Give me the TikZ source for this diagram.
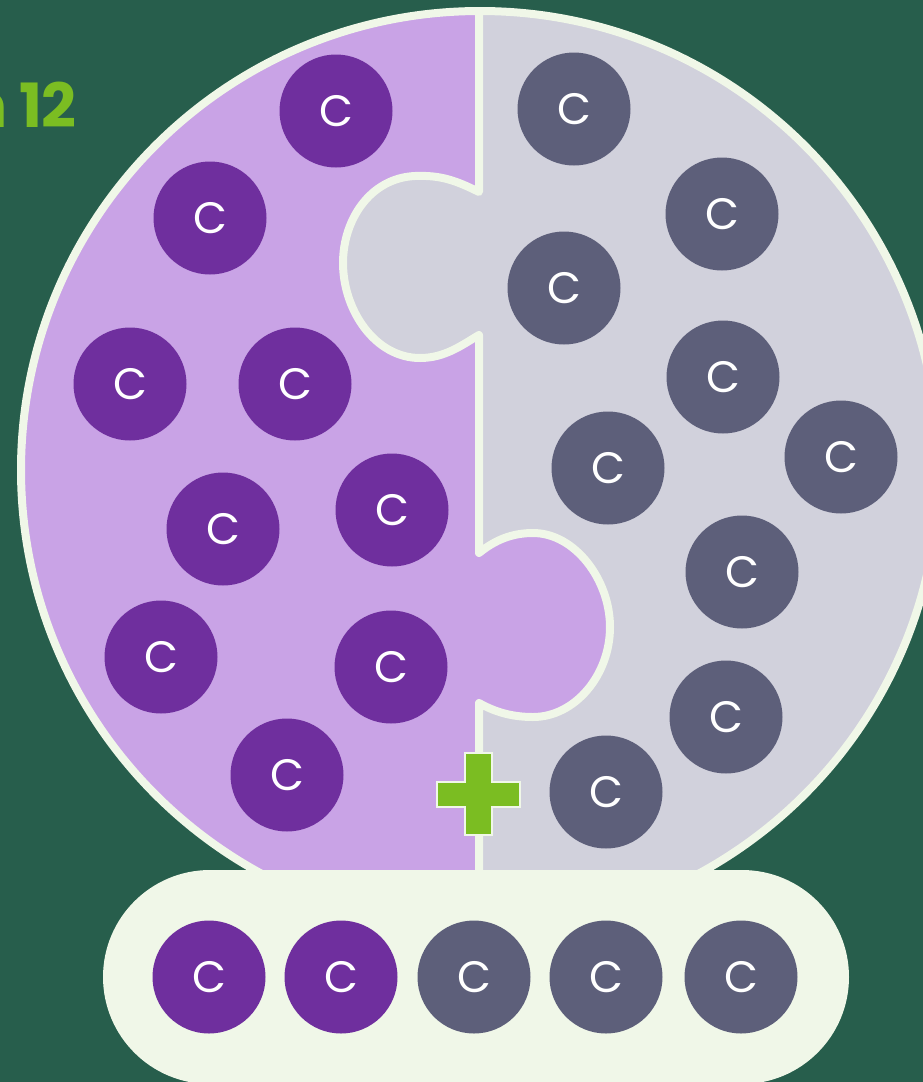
\documentclass[tikz,border=0pt]{standalone}
\usepackage{fontspec}
\usepackage{xcolor}
\usepackage{tikz}
\usetikzlibrary{positioning}
\newfontfamily\coinfont{Poppins}
\newfontfamily\titlefont{Poppins}[WordSpace=0.85]
\definecolor{bggreen}{HTML}{275E4C}
\definecolor{edge}{HTML}{F0F7E8}
\definecolor{lilac}{HTML}{C9A3E6}
\definecolor{mist}{HTML}{D1D1DC}
\definecolor{plum}{HTML}{6F2F9E}
\definecolor{slate}{HTML}{5D5F7A}
\definecolor{lime}{HTML}{7BBD22}
\tikzset{coin/.style={circle,minimum size=113pt,inner sep=0pt,text=white,font=\coinfont\fontsize{44}{44}\selectfont},
  pcoin/.style={coin,fill=plum}, gcoin/.style={coin,fill=slate}}

\begin{document}
\begin{tikzpicture}[x=1pt,y=-1pt]
  \useasboundingbox (0,0) rectangle (923,1082);
  \fill[bggreen] (0,0) rectangle (923,1082);
  \fill[mist] (480,470) circle (459pt);
  \begin{scope}
    \clip (480,470) circle (459pt);
    \fill[lilac] (479,-20) -- (479,192) .. controls (455,180) and (440,175) .. (415,176)
      .. controls (370,178) and (343,220) .. (343,263) .. controls (343,310) and (375,358) .. (420,358)
      .. controls (445,358) and (462,345) .. (479,335) -- (479,553)
      .. controls (495,540) and (512,533) .. (533,533) .. controls (575,533) and (610,580) .. (610,627)
      .. controls (610,675) and (575,717) .. (533,717) .. controls (512,717) and (495,712) .. (479,703)
      -- (479,960) -- (0,960) -- (0,-20) -- cycle;
    \draw[edge,line width=8pt,line join=round] (479,-20) -- (479,192) .. controls (455,180) and (440,175) .. (415,176)
      .. controls (370,178) and (343,220) .. (343,263) .. controls (343,310) and (375,358) .. (420,358)
      .. controls (445,358) and (462,345) .. (479,335) -- (479,553)
      .. controls (495,540) and (512,533) .. (533,533) .. controls (575,533) and (610,580) .. (610,627)
      .. controls (610,675) and (575,717) .. (533,717) .. controls (512,717) and (495,712) .. (479,703)
      -- (479,960);
  \end{scope}
  \draw[edge,line width=8pt] (480,470) circle (459pt);
  \foreach \x/\y [count=\i] in {336/111,210/218,130/384,295/384,223/529,392/510,161/657,391/667,287/775}
    \node[pcoin] (p\i) at (\x,\y) {C};
  \foreach \x/\y [count=\i] in {574/109,722/214,564/288,723/377,608/468,841/457,742/572,726/717,606/792}
    \node[gcoin] (g\i) at (\x,\y) {C};
  \filldraw[fill=lime,draw=edge,line width=2pt] (465,753) -- (492,753) -- (492,782) -- (520,782) -- (520,807)
    -- (492,807) -- (492,835) -- (465,835) -- (465,807) -- (437,807) -- (437,782) -- (465,782) -- cycle;
  \fill[edge,rounded corners=107pt] (103,870) rectangle (849,1084);
  \foreach \x [count=\i] in {209,341} \node[pcoin] (bp\i) at (\x,977) {C};
  \foreach \x [count=\i] in {474,606,741} \node[gcoin] (bg\i) at (\x,977) {C};
  \node[anchor=base east,inner sep=0pt,text=lime,font=\titlefont\bfseries\fontsize{61}{61}\selectfont] (title) at (77,127) {n 12};
\end{tikzpicture}
\end{document}
